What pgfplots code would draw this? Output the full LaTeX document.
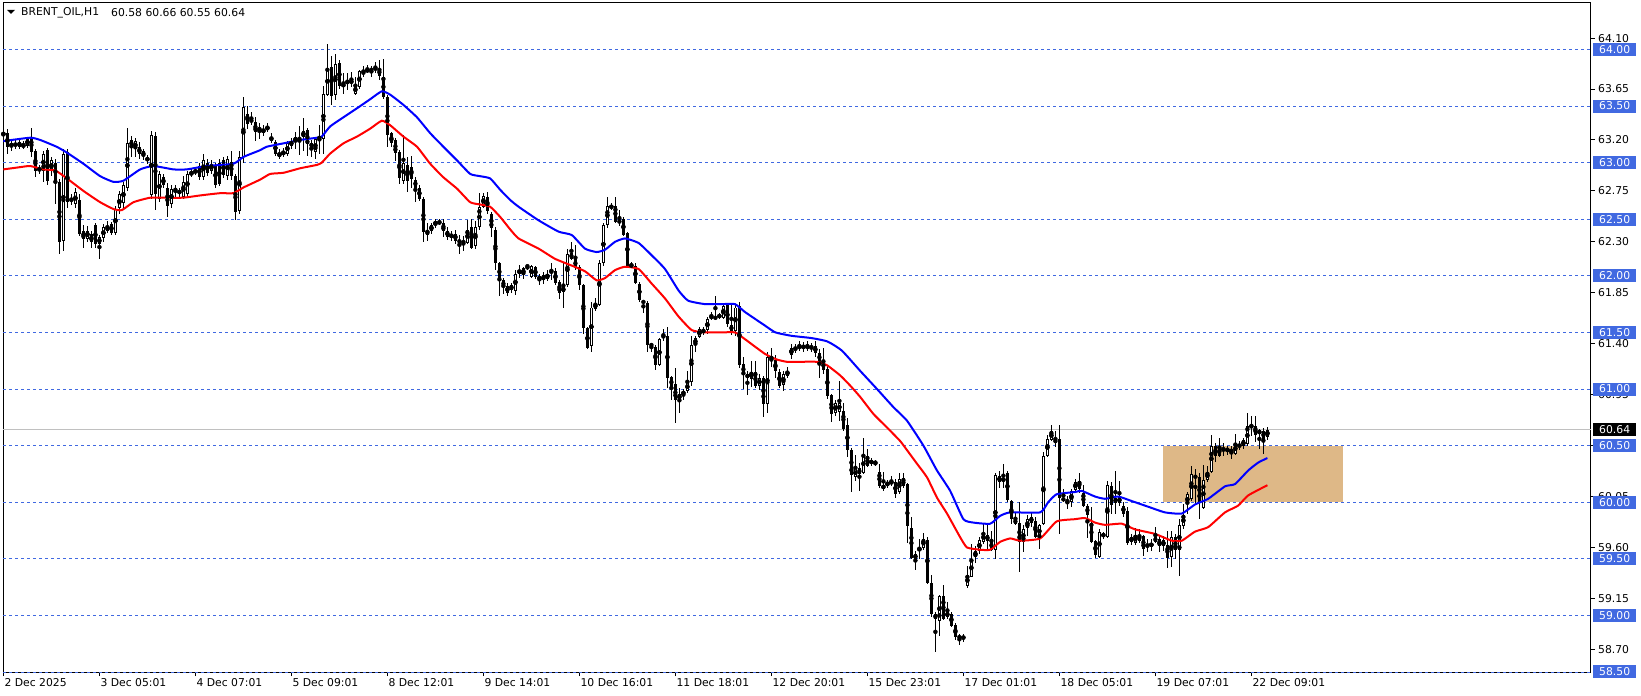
\documentclass[border=0pt]{standalone}
\usepackage{fontspec}
\setmainfont{DejaVu Sans}
\usepackage{pgfplots}
\usepackage{pgfplotstable}
\pgfplotsset{compat=1.18}

\definecolor{lvl}{RGB}{65,105,225}
\definecolor{zone}{RGB}{222,184,135}
\definecolor{cur}{RGB}{192,192,192}
\newcommand\lab{\fontsize{10.8}{12}\selectfont}

% BRENT_OIL H1 candles: k = bar slot, open high low close
\pgfplotstableread{
k o h l c
0 63.24 63.30 63.20 63.27
1 63.26 63.30 63.08 63.14
2 63.14 63.20 63.10 63.17
3 63.17 63.20 63.12 63.15
4 63.18 63.21 63.12 63.14
5 63.14 63.19 63.12 63.16
6 63.15 63.23 63.13 63.21
7 63.22 63.31 63.05 63.09
8 63.10 63.12 62.87 62.93
9 62.93 62.98 62.90 62.95
10 62.93 63.10 62.83 63.08
11 63.11 63.13 62.80 62.84
12 62.93 63.05 62.88 63.02
13 63.00 63.03 62.63 62.84
14 62.83 62.86 62.19 62.30
15 62.31 63.12 62.22 63.08
16 63.09 63.12 62.60 62.65
17 62.66 62.72 62.63 62.68
18 62.63 62.78 62.60 62.74
19 62.67 62.72 62.35 62.37
20 62.40 62.45 62.25 62.33
21 62.33 62.44 62.30 62.40
22 62.37 62.40 62.25 62.30
23 62.45 62.47 62.25 62.28
24 62.28 62.36 62.15 62.34
25 62.33 62.46 62.30 62.43
26 62.43 62.48 62.38 62.40
27 62.46 62.48 62.36 62.38
28 62.38 62.62 62.36 62.59
29 62.60 62.75 62.55 62.72
30 62.64 62.83 62.60 62.80
31 62.78 63.31 62.75 63.17
32 63.20 63.24 63.05 63.14
33 63.12 63.22 63.05 63.19
34 63.14 63.18 63.03 63.08
35 63.10 63.12 63.02 63.06
36 63.04 63.07 62.99 63.02
37 62.71 63.28 62.68 63.24
38 63.24 63.27 62.58 62.72
39 62.68 62.93 62.65 62.90
40 62.87 62.90 62.78 62.80
41 62.78 62.82 62.52 62.62
42 62.63 62.80 62.60 62.77
43 62.78 62.80 62.70 62.74
44 62.73 62.78 62.70 62.75
45 62.70 62.88 62.68 62.83
46 62.72 62.93 62.70 62.90
47 62.89 62.95 62.87 62.92
48 62.91 62.96 62.89 62.93
49 62.97 63.00 62.85 62.87
50 62.87 63.08 62.85 63.02
51 63.00 63.03 62.88 62.91
52 62.93 63.02 62.90 62.99
53 62.98 63.00 62.78 62.80
54 63.00 63.03 62.79 62.81
55 63.02 63.05 62.86 62.89
56 62.88 63.06 62.85 63.03
57 63.01 63.10 62.85 62.88
58 62.88 62.90 62.49 62.56
59 62.57 63.10 62.55 63.05
60 63.05 63.58 63.00 63.49
61 63.43 63.50 63.30 63.34
62 63.38 63.45 63.33 63.36
63 63.36 63.40 63.19 63.27
64 63.28 63.35 63.21 63.31
65 63.26 63.33 63.24 63.30
66 63.29 63.35 63.27 63.32
67 63.23 63.26 63.17 63.19
68 63.18 63.20 63.06 63.08
69 63.05 63.12 63.03 63.09
70 63.07 63.13 63.05 63.10
71 63.08 63.19 63.06 63.17
72 63.19 63.22 63.12 63.15
73 63.18 63.27 63.12 63.23
74 63.22 63.32 63.07 63.20
75 63.23 63.39 63.10 63.28
76 63.29 63.31 63.06 63.16
77 63.17 63.20 63.05 63.14
78 63.09 63.23 63.03 63.21
79 63.24 63.33 63.08 63.20
80 63.21 63.68 63.08 63.61
81 63.60 64.05 63.59 63.84
82 63.85 63.94 63.51 63.59
83 63.60 63.96 63.55 63.87
84 63.88 63.91 63.65 63.68
85 63.67 63.79 63.61 63.70
86 63.72 63.79 63.64 63.70
87 63.70 63.80 63.67 63.73
88 63.61 63.76 63.60 63.68
89 63.67 63.82 63.65 63.81
90 63.80 63.85 63.76 63.79
91 63.80 63.86 63.79 63.83
92 63.83 63.85 63.76 63.81
93 63.82 63.89 63.79 63.84
94 63.83 63.91 63.73 63.77
95 63.76 63.92 63.56 63.58
96 63.58 63.60 63.14 63.24
97 63.26 63.27 63.14 63.17
98 63.20 63.22 63.01 63.09
99 63.09 63.11 62.81 62.86
100 62.84 63.24 62.81 63.00
101 62.98 63.05 62.74 62.84
102 62.96 63.06 62.78 62.86
103 62.85 62.87 62.65 62.78
104 62.78 62.80 62.66 62.68
105 62.68 62.70 62.30 62.39
106 62.40 62.47 62.31 62.36
107 62.40 62.47 62.37 62.45
108 62.45 62.50 62.42 62.48
109 62.46 62.50 62.45 62.48
110 62.47 62.50 62.34 62.40
111 62.40 62.43 62.32 62.34
112 62.34 62.40 62.31 62.37
113 62.37 62.41 62.28 62.31
114 62.32 62.36 62.19 62.29
115 62.31 62.35 62.22 62.29
116 62.29 62.49 62.28 62.41
117 62.43 62.50 62.24 62.25
118 62.26 62.48 62.24 62.43
119 62.43 62.73 62.41 62.61
120 62.61 62.73 62.60 62.71
121 62.70 62.74 62.55 62.57
122 62.55 62.56 62.34 62.42
123 62.41 62.43 62.05 62.11
124 62.11 62.12 61.82 61.96
125 61.96 61.98 61.84 61.90
126 61.91 61.94 61.82 61.85
127 61.92 61.94 61.85 61.88
128 61.87 62.05 61.83 62.02
129 62.02 62.10 61.98 62.05
130 62.01 62.08 61.97 62.07
131 62.09 62.10 62.05 62.08
132 61.99 62.10 61.98 62.09
133 62.08 62.09 61.97 61.99
134 61.96 62.02 61.92 62.00
135 62.01 62.03 61.93 61.96
136 61.97 62.05 61.95 62.02
137 62.04 62.11 61.96 62.05
138 62.04 62.07 61.92 61.94
139 61.95 61.96 61.80 61.85
140 61.86 62.11 61.72 61.90
141 61.92 62.24 61.90 62.19
142 62.20 62.30 62.14 62.15
143 62.15 62.27 62.05 62.07
144 62.08 62.10 61.88 61.92
145 61.92 61.93 61.49 61.54
146 61.54 61.55 61.35 61.36
147 61.38 61.77 61.33 61.72
148 61.71 61.80 61.69 61.76
149 61.74 62.14 61.73 62.11
150 62.11 62.47 62.09 62.45
151 62.45 62.70 62.42 62.62
152 62.60 62.64 62.58 62.62
153 62.62 62.70 62.47 62.48
154 62.49 62.58 62.44 62.47
155 62.50 62.52 62.35 62.36
156 62.38 62.39 62.08 62.09
157 62.10 62.12 62.07 62.08
158 62.09 62.11 61.93 61.94
159 61.93 61.95 61.77 61.79
160 61.78 61.79 61.67 61.76
161 61.76 61.78 61.33 61.39
162 61.40 61.41 61.33 61.38
163 61.37 61.39 61.17 61.21
164 61.21 61.45 61.20 61.44
165 61.46 61.53 61.42 61.47
166 61.47 61.55 61.01 61.10
167 61.11 61.12 60.90 61.01
168 61.04 61.19 60.70 60.90
169 60.90 61.01 60.79 60.96
170 60.95 61.00 60.90 60.98
171 60.98 61.16 60.97 61.06
172 61.06 61.47 61.03 61.39
173 61.39 61.47 61.33 61.45
174 61.46 61.55 61.45 61.53
175 61.52 61.55 61.48 61.50
176 61.52 61.64 61.49 61.62
177 61.63 61.68 61.61 61.64
178 61.62 61.82 61.61 61.64
179 61.65 61.67 61.62 61.64
180 61.63 61.76 61.62 61.73
181 61.74 61.76 61.55 61.57
182 61.57 61.76 61.48 61.51
183 61.51 61.75 61.47 61.72
184 61.73 61.77 61.19 61.21
185 61.22 61.28 61.00 61.13
186 61.13 61.16 60.95 61.10
187 61.09 61.25 61.02 61.15
188 61.15 61.25 61.01 61.03
189 61.03 61.13 60.99 61.10
190 61.10 61.12 60.75 60.87
191 60.87 61.33 60.79 61.28
192 61.27 61.36 61.19 61.25
193 61.26 61.30 61.10 61.16
194 61.15 61.18 61.01 61.03
195 61.04 61.16 60.98 61.13
196 61.12 61.19 61.10 61.16
197 61.30 61.40 61.27 61.36
198 61.35 61.40 61.32 61.36
199 61.36 61.42 61.34 61.38
200 61.38 61.42 61.33 61.36
201 61.36 61.42 61.34 61.38
202 61.38 61.41 61.33 61.35
203 61.38 61.42 61.28 61.32
204 61.32 61.35 61.10 61.24
205 61.25 61.36 61.13 61.17
206 61.18 61.20 60.91 60.94
207 60.95 60.96 60.71 60.78
208 60.79 60.90 60.76 60.88
209 60.80 61.07 60.72 60.88
210 60.81 60.88 60.63 60.65
211 60.68 60.74 60.40 60.46
212 60.46 60.48 60.09 60.24
213 60.22 60.42 60.19 60.30
214 60.30 60.35 60.10 60.25
215 60.26 60.57 60.25 60.42
216 60.41 60.47 60.31 60.32
217 60.34 60.39 60.32 60.37
218 60.36 60.37 60.32 60.34
219 60.27 60.34 60.13 60.14
220 60.12 60.27 60.10 60.15
221 60.14 60.20 60.13 60.18
222 60.16 60.23 60.14 60.19
223 60.18 60.21 60.04 60.07
224 60.09 60.26 60.07 60.21
225 60.21 60.26 60.13 60.14
226 60.16 60.17 59.64 59.79
227 59.77 59.87 59.50 59.51
228 59.50 59.57 59.40 59.54
229 59.57 59.68 59.50 59.60
230 59.60 59.73 59.58 59.68
231 59.67 59.69 59.28 59.29
232 59.29 59.36 58.99 59.01
233 59.01 59.03 58.68 58.97
234 58.95 59.18 58.82 59.17
235 59.17 59.27 58.96 58.97
236 58.99 59.12 58.97 59.03
237 59.01 59.03 58.90 58.91
238 58.92 58.93 58.78 58.81
239 58.80 58.84 58.74 58.82
240 58.82 58.84 58.77 58.79
241 59.26 59.44 59.24 59.36
242 59.34 59.63 59.34 59.50
243 59.52 59.61 59.46 59.57
244 59.57 59.69 59.54 59.67
245 59.65 59.81 59.63 59.73
246 59.71 59.80 59.57 59.66
247 59.66 59.75 59.57 59.58
248 59.58 60.26 59.50 60.24
249 60.23 60.28 60.13 60.18
250 60.19 60.34 60.13 60.21
251 60.26 60.28 60.00 60.02
252 60.01 60.02 59.81 59.85
253 59.85 59.91 59.80 59.81
254 59.82 60.00 59.38 59.65
255 59.65 59.80 59.56 59.76
256 59.77 59.89 59.70 59.85
257 59.87 59.91 59.78 59.82
258 59.83 59.87 59.68 59.69
259 59.69 59.81 59.59 59.80
260 59.81 60.44 59.80 60.41
261 60.41 60.59 60.40 60.56
262 60.55 60.68 60.54 60.63
263 60.56 60.63 60.49 60.52
264 60.56 60.68 59.72 60.04
265 60.02 60.12 60.00 60.03
266 60.02 60.06 59.94 60.00
267 60.00 60.12 59.96 60.10
268 60.11 60.21 60.09 60.18
269 60.19 60.26 60.08 60.12
270 60.08 60.15 59.96 59.97
271 59.97 59.98 59.68 59.89
272 59.82 59.96 59.64 59.65
273 59.66 59.67 59.51 59.53
274 59.52 59.76 59.51 59.74
275 59.73 59.74 59.68 59.69
276 59.69 60.19 59.68 60.15
277 60.14 60.18 59.90 59.98
278 60.04 60.28 59.90 59.99
279 59.99 60.19 59.97 60.05
280 59.97 60.00 59.87 59.90
281 59.92 59.96 59.62 59.64
282 59.69 59.72 59.62 59.65
283 59.64 59.77 59.62 59.71
284 59.71 59.76 59.64 59.66
285 59.70 59.71 59.53 59.59
286 59.62 59.68 59.56 59.61
287 59.61 59.68 59.57 59.64
288 59.69 59.78 59.64 59.65
289 59.68 59.71 59.56 59.61
290 59.61 59.70 59.57 59.67
291 59.62 59.75 59.42 59.51
292 59.52 59.75 59.43 59.69
293 59.69 59.72 59.50 59.58
294 59.58 59.85 59.35 59.80
295 59.79 59.98 59.76 59.89
296 59.98 60.09 59.90 60.07
297 60.03 60.32 60.01 60.25
298 60.24 60.29 59.98 60.21
299 60.22 60.26 59.85 60.00
300 59.95 60.33 59.94 60.20
301 60.20 60.32 60.18 60.27
302 60.27 60.59 60.26 60.50
303 60.50 60.52 60.36 60.41
304 60.49 60.57 60.40 60.41
305 60.48 60.52 60.41 60.46
306 60.46 60.50 60.42 60.47
307 60.44 60.50 60.38 60.47
308 60.43 60.60 60.42 60.52
309 60.51 60.54 60.46 60.49
310 60.50 60.57 60.47 60.55
311 60.51 60.79 60.50 60.67
312 60.68 60.76 60.59 60.66
313 60.67 60.76 60.53 60.59
314 60.60 60.65 60.47 60.64
315 60.63 60.66 60.43 60.56
316 60.58 60.66 60.55 60.64
}\bars

\begin{document}
\begin{tikzpicture}
\useasboundingbox (-3pt,-24pt) rectangle (1638pt,672pt);
\begin{axis}[
  at={(0pt,0pt)}, anchor=south west,
  scale only axis, width=1588pt, height=669pt,
  xmin=-0.1, xmax=396.9, ymin=58.5, ymax=64.41,
  axis line style={black, line width=1pt},
  tick align=outside, major tick length=4pt,
  tick style={black, line width=1pt},
  xtick pos=left, ytick pos=right, yticklabel pos=right,
  xtick={0,24,...,312},
  xticklabels={2 Dec 2025, 3 Dec 05:01, 4 Dec 07:01, 5 Dec 09:01, 8 Dec 12:01, 9 Dec 14:01, 10 Dec 16:01, 11 Dec 18:01, 12 Dec 20:01, 15 Dec 23:01, 17 Dec 01:01, 18 Dec 05:01, 19 Dec 07:01, 22 Dec 09:01},
  ytick={58.70,59.15,59.60,60.05,60.50,60.95,61.40,61.85,62.30,62.75,63.20,63.65,64.10},
  yticklabels={58.70,59.15,59.60,60.05,60.50,60.95,61.40,61.85,62.30,62.75,63.20,63.65,64.10},
  tick label style={font=\lab, inner sep=0pt},
  xticklabel style={anchor=north west, xshift=1pt, yshift=-2pt},
  yticklabel style={anchor=west, xshift=3pt},
]
% zone
\addplot[fill=zone, draw=none, forget plot] coordinates {(289.9,60) (334.9,60) (334.9,60.5) (289.9,60.5)} -- cycle;
% level lines
\pgfplotsinvokeforeach{58.5,59,59.5,60,60.5,61,61.5,62,62.5,63,63.5,64}{
  \addplot[lvl, line width=1pt, dash pattern=on 3pt off 3pt, forget plot] coordinates {(-0.1,#1) (396.9,#1)};
}
\addplot[cur, line width=1pt, forget plot] coordinates {(-0.1,60.64) (396.9,60.64)};
% wicks
\addplot[only marks, mark=none, forget plot,
  error bars/.cd, y dir=both, y explicit, error mark=none,
  error bar style={draw=black, line width=1pt}]
  table[x=k, y expr={(\thisrow{h}+\thisrow{l})/2}, y error expr={(\thisrow{h}-\thisrow{l})/2}] {\bars};
% bodies
\addplot[only marks, mark=none, forget plot,
  error bars/.cd, y dir=both, y explicit, error mark=none,
  error bar style={draw=black, line width=3pt}]
  table[x=k, y expr={(\thisrow{o}+\thisrow{c})/2}, y error expr={max(abs(\thisrow{c}-\thisrow{o})/2,0.0045)}] {\bars};
% hollow up bodies
\addplot[only marks, mark=none, forget plot, restrict y to domain=58:65,
  error bars/.cd, y dir=both, y explicit, error mark=none,
  error bar style={draw=white, line width=1pt}]
  table[x=k, y expr={(\thisrow{c}-\thisrow{o}>0.02) ? ((\thisrow{o}+\thisrow{c})/2) : (0)}, y error expr={max((\thisrow{c}-\thisrow{o})/2-0.0088,0)}] {\bars};
% moving averages
\addplot[blue, line width=2pt, smooth, tension=0.3, forget plot] coordinates {
(0,63.19) (6.7,63.22) (9.2,63.20) (13.3,63.14) (15.8,63.09) (20,62.99) (24.2,62.88) (27.5,62.83) (30,62.84) (34.2,62.94) (37.5,62.97) (42.5,62.94) (45.8,62.94) (50.8,62.97) (57.5,62.99) (60,63.05) (64.2,63.11)
(65.8,63.14) (70,63.17) (74.2,63.20) (78.4,63.22) (79.6,63.23) (81.7,63.32) (85,63.40) (88.4,63.48) (91.7,63.56) (94.6,63.63) (96.7,63.60) (100,63.51) (103.4,63.40) (106.7,63.26) (110,63.14) (113.4,63.02) (116.7,62.90) (119.2,62.88) (121.7,62.86) (124.2,62.76) (126.7,62.67)
(128.8,62.61) (133.8,62.49) (138.8,62.39) (142.1,62.36) (145.4,62.24) (148.3,62.21) (150.4,62.23) (152.9,62.30) (155.4,62.33) (158.8,62.29) (162.1,62.18) (165.4,62.06) (168.8,61.87) (171.2,61.78) (175.4,61.75) (179.6,61.75) (182.9,61.75) (185.4,61.68) (190.4,61.56)
(193,61.50) (197,61.47) (202,61.45) (206,61.42) (209.6,61.34) (214.2,61.16) (218.4,61.00) (222.5,60.84) (225.9,60.72) (230,60.50) (233.4,60.28) (236.7,60.10) (240,59.85) (242.5,59.82) (246.7,59.81) (249.2,59.88) (251.7,59.91)
(259.2,59.91) (261.2,60.00) (263.3,60.07) (267.9,60.09) (269.6,60.10) (272.9,60.05) (275.4,60.03) (278.7,60.05) (282.1,60.01) (286.2,59.96) (290.4,59.91) (294.6,59.90) (297.9,59.98) (301.2,60.03) (305.4,60.14) (307.9,60.16) (311.2,60.28) (313.7,60.35) (316,60.39)
};
\addplot[red, line width=2pt, smooth, tension=0.3, forget plot] coordinates {
(0,62.94) (4.2,62.96) (6.7,62.97) (10,62.94) (13,62.93) (15.9,62.86) (20,62.75) (24.2,62.65) (27.5,62.59) (29.6,62.58) (32.5,62.65) (36.7,62.69) (40.9,62.69) (45,62.69) (49.2,62.71) (54.2,62.73) (57.5,62.73) (60,62.78) (64.2,62.85)
(66.7,62.90) (70,62.91) (74.2,62.95) (78.4,62.98) (79.6,63.00) (81.7,63.08) (85,63.17) (88.4,63.23) (91.7,63.30) (94.6,63.37) (96.7,63.33) (100,63.23) (103.4,63.14) (106.7,62.99) (110,62.87) (113.4,62.77) (116.7,62.65) (119.2,62.63) (121.7,62.61) (124.2,62.52) (126.7,62.41)
(128.8,62.33) (133.8,62.24) (137.9,62.15) (142.1,62.09) (145.4,62.04) (148.3,61.96) (150.4,61.98) (152.9,62.05) (155.4,62.08) (158.8,62.06) (162.1,61.93) (165.4,61.80) (168.8,61.64) (172.1,61.52) (175.4,61.50) (179.6,61.50) (182.9,61.50) (185.4,61.44) (190.4,61.31)
(193.4,61.26) (195.9,61.24) (198.4,61.24) (203.4,61.24) (205.9,61.21) (209.2,61.12) (211.7,61.03) (214.2,60.93) (217.5,60.78) (220.9,60.66) (224.2,60.54) (225.9,60.46) (228.4,60.34) (230.9,60.22) (233.4,60.04) (235.9,59.90) (239.2,59.69) (240.9,59.60) (244.2,59.58) (246.7,59.58) (249.2,59.65) (251.7,59.68) (254.2,59.66)
(259.2,59.68) (263.3,59.83) (267.9,59.85) (270.4,59.86) (272.9,59.82) (275.4,59.80) (279.6,59.81) (282.9,59.76) (287.9,59.72) (292.1,59.66) (294.6,59.66) (297.9,59.74) (301.2,59.78) (305.4,59.91) (308.7,59.97) (311.2,60.06) (316,60.15)
};
% header
\fill (rel axis cs:0,1) ++(4pt,-7pt) -- ++(8pt,0pt) -- ++(-4pt,-4pt) -- cycle;
\node[anchor=west, inner sep=0pt, font=\lab] at (rel axis cs:0,1) [xshift=18pt, yshift=-10pt] {BRENT\_OIL,H1};
\node[anchor=west, inner sep=0pt, font=\lab] at (rel axis cs:0,1) [xshift=108pt, yshift=-10pt] {60.58 60.66 60.55 60.64};
% anchors for price labels
\pgfplotsinvokeforeach{0,...,11}{\coordinate (L#1) at (axis cs:396.9,{58.5+0.5*#1});}
\coordinate (LC) at (axis cs:396.9,60.64);
\end{axis}
\foreach \i/\t in {0/58.50,1/59.00,2/59.50,3/60.00,4/60.50,5/61.00,6/61.50,7/62.00,8/62.50,9/63.00,10/63.50,11/64.00}
  \node[fill=lvl, text=white, anchor=west, inner sep=0pt, minimum width=43pt, minimum height=13pt, font=\lab] at ([xshift=2pt]L\i) {\t};
\node[fill=black, text=white, anchor=west, inner sep=0pt, minimum width=43pt, minimum height=13pt, font=\lab] at ([xshift=2pt]LC) {60.64};
\end{tikzpicture}
\end{document}
